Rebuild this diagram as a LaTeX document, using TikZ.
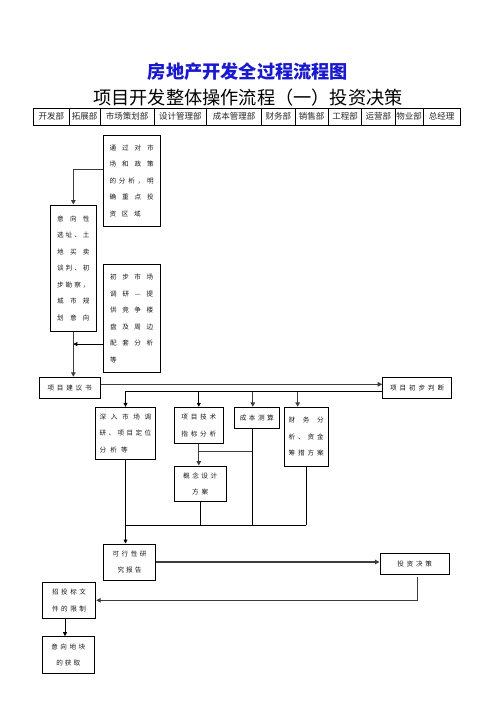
\documentclass[tikz,border=0pt]{standalone}
\usepackage{fontspec}
\setmainfont{Noto Sans CJK SC}
\usetikzlibrary{arrows.meta}
\tikzstyle{chart} = [x = 1pt, y = -1pt]
\definecolor{titleBlue}{RGB}{25,25,205}
\definecolor{lineGray}{RGB}{60,60,60}
\tikzstyle{boxStyle} = [draw, line width = 1pt, inner sep = 0pt, align = left, text = black!90, font = \fontsize{6.6}{16.5}\selectfont]
\tikzstyle{headerCell} = [draw, line width = .8pt, minimum height = 17pt, inner sep = 0pt, text = black!85, font = \fontsize{8.5}{9}\selectfont]
\tikzstyle{thinLine} = [line width = .8pt]
\tikzstyle{thickLine} = [line width = 1.3pt, color = lineGray]
\tikzstyle{thinArrow} = [thinLine, -{Triangle[length = 4pt, width = 4pt]}]
\tikzstyle{thickArrow} = [thickLine, -{Triangle[length = 4.5pt, width = 4.5pt]}]
\newcommand{\spreadLine}[2]{\makebox[#1pt][s]{#2}}
\newcommand{\flowBox}[6]{\node [boxStyle, minimum width = #4 - #2, minimum height = #5 - #3] (#1) at ({(#2 + #4) / 2}, {(#3 + #5) / 2}) {#6};}

\begin{document}
\begin{tikzpicture}[chart]
  \useasboundingbox (0,0) rectangle (496,702);

  \node [font = \fontsize{18.2}{20}\selectfont\bfseries, text = titleBlue] (mainTitle) at (248,72) {房地产开发全过程流程图};
  \node [font = \fontsize{18.2}{20}\selectfont] (subTitle) at (248,98) {项目开发整体操作流程（一）投资决策};

  % department header row
  \foreach \xa/\xb/\deptName [count=\i] in {33.3/69.3/开发部, 69.3/100/拓展部, 100/154/市场策划部, 154/206.7/设计管理部, 206.7/261.7/成本管理部, 261.7/295/财务部, 295/328.3/销售部, 328.3/361.7/工程部, 361.7/395/运营部, 395/423.3/物业部, 423.3/460/总经理} {
    \node [headerCell, minimum width = \xb - \xa] (dept\i) at ({(\xa + \xb) / 2}, 116.7) {\deptName};
  }

  \flowBox{marketPolicy}{103.3}{135}{160}{226.7}{\spreadLine{44}{通 过 对 市}\\\spreadLine{44}{场 和 政 策}\\\spreadLine{44}{的 分 析 ， 明}\\\spreadLine{44}{确 重 点 投}\\\spreadLine{31}{资 区 域}}
  \flowBox{siteIntent}{50.7}{205}{96}{331.7}{\spreadLine{32.5}{意 向 性}\\\spreadLine{32.5}{选 址 、 土}\\\spreadLine{32.5}{地 买 卖}\\\spreadLine{32.5}{谈 判 、 初}\\\spreadLine{32.5}{步 勘 察 ，}\\\spreadLine{32.5}{城 市 规}\\\spreadLine{32.5}{划 意 向}}
  \flowBox{marketSurvey}{103.3}{264}{160}{372.7}{\spreadLine{43}{初 步 市 场}\\\spreadLine{43}{调 研 — 提}\\\spreadLine{43}{供 竞 争 楼}\\\spreadLine{43}{盘 及 周 边}\\\spreadLine{43}{配 套 分 析}\\\makebox[43pt][l]{等}}
  \flowBox{proposal}{39.3}{377.3}{100}{398.3}{\spreadLine{44}{项 目 建 议 书}}
  \flowBox{judge}{382.7}{377}{451.7}{398}{\spreadLine{54}{项 目 初 步 判 断}}
  \flowBox{research}{95.3}{407.3}{155.7}{459.3}{\spreadLine{51.6}{深 入 市 场 调}\\\spreadLine{51.6}{研 、 项 目 定 位}\\\makebox[51.6pt][l]{\spreadLine{28}{分 析 等}}}
  \flowBox{tech}{174.3}{407.3}{223.3}{443.3}{\spreadLine{35}{项 目 技 术}\\\spreadLine{35}{指 标 分 析}}
  \flowBox{cost}{234.3}{407.3}{279.3}{428.3}{\spreadLine{34}{成 本 测 算}}
  \flowBox{finance}{284}{407.3}{328.3}{466}{\spreadLine{35}{财 务 分}\\\spreadLine{35}{析 、 资 金}\\\spreadLine{35}{筹 措 方 案}}
  \flowBox{concept}{174.3}{466}{226}{501.7}{\spreadLine{34}{概 念 设 计}\\\makebox[34pt]{\spreadLine{16}{方 案}}}
  \flowBox{feasibility}{103.3}{544}{155.7}{580}{\spreadLine{34}{可 行 性 研}\\\makebox[34pt]{\spreadLine{24}{究 报 告}}}
  \flowBox{decision}{380}{553.3}{449.3}{574.3}{\spreadLine{34.7}{投 资 决 策}}
  \flowBox{tender}{42.3}{582.3}{95.7}{618.3}{\spreadLine{34}{招 投 标 文}\\\spreadLine{34}{件 的 限 制}}
  \flowBox{plot}{42.3}{636.7}{94.3}{673.3}{\spreadLine{34}{意 向 地 块}\\\makebox[34pt]{\spreadLine{24}{的 获 取}}}

  % connectors
  \coordinate (policyOut) at ([yshift = 11.5pt]marketPolicy.west);
  \coordinate (surveyOut) at ([yshift = -25.7pt]marketSurvey.west);
  \coordinate (proposalOut) at ([yshift = 3.5pt]proposal.east);
  \coordinate (splitPoint) at ([yshift = -4.2pt]judge.west);
  \coordinate (costDrop) at ([xshift = -4pt]cost.south);
  \coordinate (costIn) at ([xshift = -4pt]cost.north);
  \coordinate (financeIn) at ([xshift = -8.5pt]finance.north);
  \coordinate (techJoin) at ([yshift = -7.7pt]tech.south);
  \coordinate (mergeLine) at (0,525);
  \coordinate (decisionDrop) at ([xshift = 3pt, yshift = -2.4pt]decision.south);
  \coordinate (tenderDrop) at ([xshift = -4pt]tender.south);

  \draw [thickArrow] (policyOut) -| (siteIntent.north);
  \draw [thickArrow] (siteIntent.south) -- (siteIntent.south |- proposal.north);
  \draw [thinArrow] (surveyOut) -- (surveyOut -| siteIntent.south);
  \draw [thickArrow] (proposalOut) -- (proposalOut -| judge.west);

  \draw [thinArrow] (splitPoint) -| (research.north);
  \draw [thinArrow] (splitPoint -| tech.north) -- (tech.north);
  \draw [thickArrow] (splitPoint -| costIn) -- (costIn);
  \draw [thickArrow] (splitPoint -| financeIn) -- (financeIn);

  \draw [thickArrow] (tech.south) -- (tech.south |- concept.north);
  \draw [thickLine] (techJoin) -- (techJoin -| costDrop);
  \draw [thinLine] (costDrop) -- (costDrop |- mergeLine);
  \draw [thinLine] (concept.south) -- (concept.south |- mergeLine);
  \draw [thinLine] (finance.south) -- (finance.south |- mergeLine);
  \draw [thinLine] (research.south |- mergeLine) -- (finance.south |- mergeLine);
  \draw [thinArrow] (research.south) -- (research.south |- feasibility.north);

  \draw [thickArrow] (feasibility.east) -- (feasibility.east -| decision.west);
  \draw [thickArrow] (decisionDrop) |- (tender.east);
  \draw [thinArrow] (tenderDrop) -- (tenderDrop |- plot.north);
\end{tikzpicture}
\end{document}
